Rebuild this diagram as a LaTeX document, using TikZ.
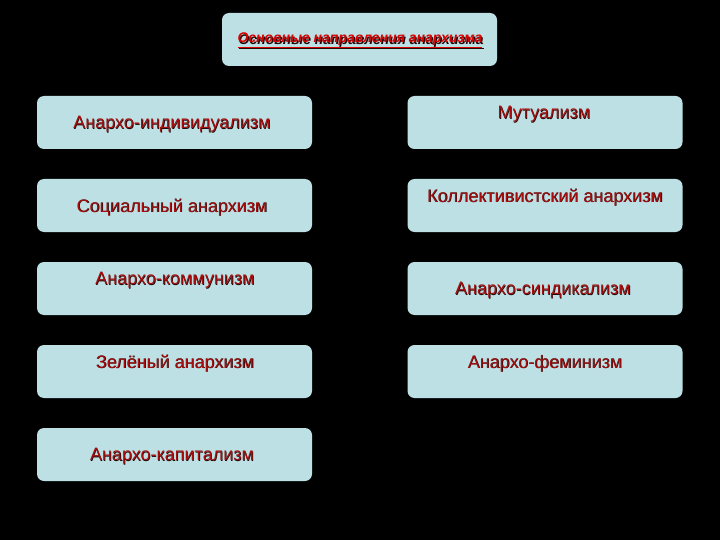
\documentclass[tikz,border=0pt]{standalone}
\usepackage{fontspec}
\setmainfont{Liberation Sans}
\usetikzlibrary{calc}
\definecolor{boxc}{RGB}{188,224,228}
\definecolor{txtc}{RGB}{165,15,15}
\definecolor{shc}{RGB}{35,10,10}
\tikzset{
  boxnode/.style={rectangle, rounded corners=7pt, fill=boxc, minimum width=275pt, minimum height=53pt, inner sep=0pt},
  lbl/.style={font=\fontsize{18}{21}\selectfont, text=txtc, inner sep=0pt},
  shd/.style={font=\fontsize{18}{21}\selectfont, text=shc, inner sep=0pt},
  ttl/.style={font=\bfseries\itshape\fontsize{14}{16}\selectfont, inner sep=0pt},
}
\newcommand{\shtext}[3]{%
  \node[shd] at ($(#1)+(0.6,0.6)$) {#3};
  \node[lbl] (#2) at (#1) {#3};}
\begin{document}
\begin{tikzpicture}[x=1pt,y=-1pt]
\fill[black] (0,0) rectangle (720,540);
\useasboundingbox (0,0) rectangle (720,540);
% title
\node[boxnode] (title) at (359.5,39.5) {};
\node[ttl, text=shc] at (361.2,41.7) {\underline{Основные направления анархизма}};
\node[ttl, text=red!85!black] (ttext) at (360,40.5) {\underline{Основные направления анархизма}};
% left column
\node[boxnode] (l1) at (174.5,122.5) {};
\node[boxnode] (l2) at (174.5,205.5) {};
\node[boxnode] (l3) at (174.5,288.5) {};
\node[boxnode] (l4) at (174.5,371.5) {};
\node[boxnode] (l5) at (174.5,454.5) {};
% right column
\node[boxnode] (r1) at (545,122.5) {};
\node[boxnode] (r2) at (545,205.5) {};
\node[boxnode] (r3) at (545,288.5) {};
\node[boxnode] (r4) at (545,371.5) {};
% texts
\shtext{172,124.5}{tl1}{Анархо-индивидуализм}
\shtext{172,207.5}{tl2}{Социальный анархизм}
\shtext{175,280.5}{tl3}{Анархо-коммунизм}
\shtext{175,363.5}{tl4}{Зелёный анархизм}
\shtext{172,456.5}{tl5}{Анархо-капитализм}
\shtext{544,114.5}{tr1}{Мутуализм}
\shtext{545,197.5}{tr2}{Коллективистский анархизм}
\shtext{543,290.5}{tr3}{Анархо-синдикализм}
\shtext{545,363.5}{tr4}{Анархо-феминизм}
\end{tikzpicture}
\end{document}
